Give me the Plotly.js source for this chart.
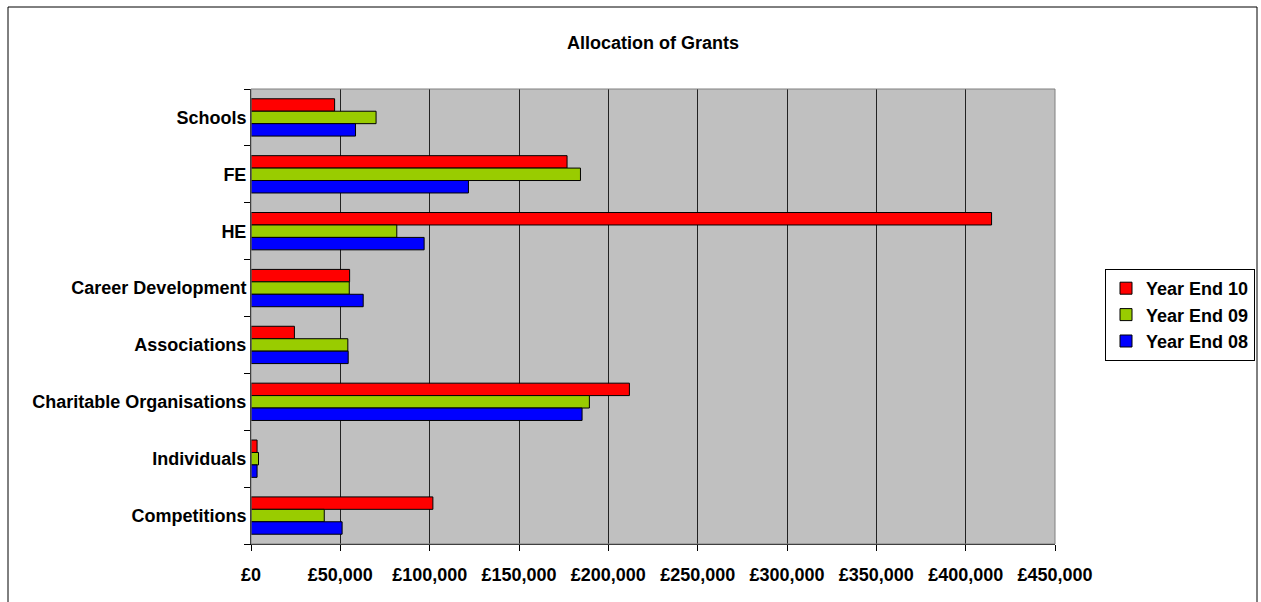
<!DOCTYPE html>
<html>
<head>
<meta charset="utf-8">
<script src="https://cdn.plot.ly/plotly-3.0.1.min.js"></script>
<style>
html,body{margin:0;padding:0;background:#fff;}
#chart{width:1261px;height:602px;}
</style>
</head>
<body>
<div id="chart"></div>
<script>
var categories = ["Schools","FE","HE","Career Development","Associations","Charitable Organisations","Individuals","Competitions"];
var seriesNames = ["Year End 10","Year End 09","Year End 08"];
var yearEnd10 = [46800, 176900, 414500, 55200, 24300, 211800, 3400, 101800];
var yearEnd09 = [70000, 184400, 81600, 55000, 54200, 189400, 4200, 41000];
var yearEnd08 = [58500, 121700, 96900, 62800, 54400, 185300, 3400, 51000];
var xTicks = [0,50000,100000,150000,200000,250000,300000,350000,400000,450000];
var colors = ["#FF0000","#99CC00","#0000FF"];

var values = [yearEnd10, yearEnd09, yearEnd08];
var traces = values.map(function(v,i){
  return {
    type:"bar", orientation:"h", name:"<b>"+seriesNames[i]+"</b>",
    x:v, y:categories,
    marker:{color:colors[i], line:{color:"#000000", width:1}},
    hoverinfo:"x+y"
  };
});

var W=1261,H=602,L=251,R=1055,T=89,B=544;
var pw=R-L, ph=B-T;
function px(x){return (x-L)/pw;}
function py(y){return (B-y)/ph;}

var font = {family:"Liberation Sans, Arial, sans-serif", size:18, color:"#000"};
var layout = {
  width:W, height:H,
  margin:{l:L, r:W-R, t:T, b:H-B, pad:0, autoexpand:false},
  paper_bgcolor:"#ffffff",
  plot_bgcolor:"#C0C0C0",
  font:font,
  title:{text:"<b>Allocation of Grants</b>", font:{family:font.family,size:18,color:"#000"}, x:0.5, xref:"paper", xanchor:"center", y:1-43/H, yref:"container", yanchor:"middle"},
  barmode:"group", bargap:0.344, bargroupgap:0,
  xaxis:{range:[0,450000], tickvals:xTicks, ticktext:xTicks.map(function(t){return "<b>£"+t.toLocaleString("en-GB")+"</b>";}),
    showgrid:true, gridcolor:"#222222", gridwidth:1, zeroline:false,
    showline:true, linecolor:"#000", linewidth:1, ticklabelstandoff:8,
    ticks:"outside", ticklen:6, tickcolor:"#000", tickfont:{family:font.family,size:18,color:"#000"}, fixedrange:true, automargin:false},
  yaxis:{type:"category", autorange:"reversed", tickson:"boundaries",
    tickvals:categories, ticktext:categories.map(function(c){return "<b>"+c+"</b>";}),
    showgrid:false, showline:true, linecolor:"#000", linewidth:1,
    ticks:"outside", ticklen:6, tickcolor:"#000", tickfont:{family:font.family,size:18,color:"#000"}, fixedrange:true, automargin:false},
  showlegend:true,
  legend:{x:px(1105), y:py(269), xanchor:"left", yanchor:"top", bgcolor:"#ffffff", bordercolor:"#000", borderwidth:1,
    font:{family:font.family,size:18,color:"#000"}, traceorder:"normal", itemwidth:30, tracegroupgap:0},
  shapes:[
    {type:"rect", xref:"paper", yref:"paper", x0:0, x1:1, y0:0, y1:1, line:{color:"#808080", width:1}, fillcolor:"rgba(0,0,0,0)", layer:"above"},
    {type:"rect", xref:"paper", yref:"paper", x0:px(8), x1:px(1257), y0:py(640), y1:py(7), line:{color:"#000", width:1}, fillcolor:"rgba(0,0,0,0)"}
  ]
};
Plotly.newPlot("chart", traces, layout, {displayModeBar:false, staticPlot:true});
</script>
</body>
</html>
